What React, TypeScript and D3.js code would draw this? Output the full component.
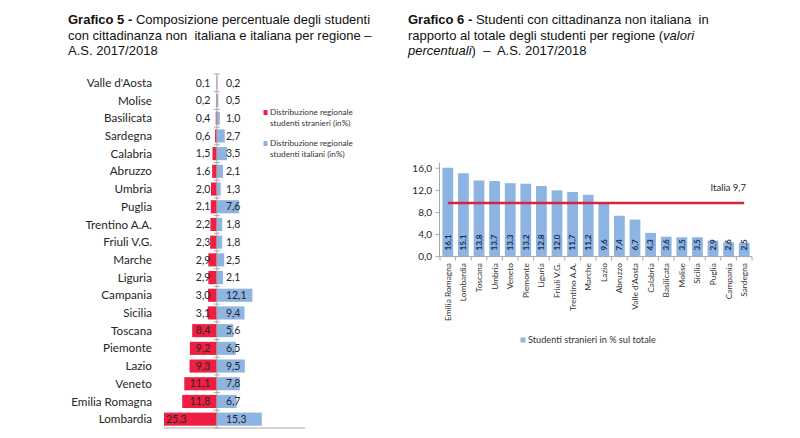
import React from "react";
import * as d3 from "d3";

// ---- Grafico 5 data ----
const regions5 = ["Valle d'Aosta", "Molise", "Basilicata", "Sardegna", "Calabria", "Abruzzo", "Umbria", "Puglia", "Trentino A.A.", "Friuli V.G.", "Marche", "Liguria", "Campania", "Sicilia", "Toscana", "Piemonte", "Lazio", "Veneto", "Emilia Romagna", "Lombardia"];
const stranieri5 = [0.1, 0.2, 0.4, 0.6, 1.5, 1.6, 2.0, 2.1, 2.2, 2.3, 2.9, 2.9, 3.0, 3.1, 8.4, 9.2, 9.3, 11.1, 11.8, 25.3];
const italiani5 = [0.2, 0.5, 1.0, 2.7, 3.5, 2.1, 1.3, 7.6, 1.8, 1.8, 2.5, 2.1, 12.1, 9.4, 5.6, 6.5, 9.5, 7.8, 6.7, 15.3];
const legend5 = [
  ["Distribuzione regionale", "studenti stranieri (in%)"],
  ["Distribuzione regionale", "studenti italiani (in%)"],
];
const axisDomain5: [number, number] = [-18, 30];

// ---- Grafico 6 data ----
const regions6 = ["Emilia Romagna", "Lombardia", "Toscana", "Umbria", "Veneto", "Piemonte", "Liguria", "Friuli V.G.", "Trentino A.A.", "Marche", "Lazio", "Abruzzo", "Valle d'Aosta", "Calabria", "Basilicata", "Molise", "Sicilia", "Puglia", "Campania", "Sardegna"];
const quota6 = [16.1, 15.1, 13.8, 13.7, 13.3, 13.2, 12.8, 12.0, 11.7, 11.2, 9.6, 7.4, 6.7, 4.3, 3.6, 3.5, 3.5, 2.9, 2.6, 2.5];
const italia6 = 9.7;
const yTicks6 = [0, 4, 8, 12, 16];
const legend6 = "Studenti stranieri in % sul totale";

const RED = "#ee1f40";
const BLUE = "#8db4e3";
const AXIS = "#a8a8a8";
const TXT = "#262626";
const CHART_FONT = "Lato, 'Open Sans', sans-serif";
const TITLE_FONT = "'Liberation Sans', Arial, sans-serif";

const fmt = (v: number) => d3.format(".1f")(v).replace(".", ",");

export default function App() {
  // Left chart scales
  const xL = d3.scaleLinear().domain(axisDomain5).range([164, 305]);
  const yL = d3.scaleBand().domain(regions5).range([74, 428]).paddingInner(0.26).paddingOuter(0.13);
  const stepL = yL.step();
  const x0 = xL(0);

  // Right chart scales
  const xR = d3.scaleBand().domain(regions6).range([440, 752]).paddingInner(0.31).paddingOuter(0.155);
  const yR = d3.scaleLinear().domain([0, 17]).range([256.6, 256.6 - 17 * 5.52]);
  const stepR = xR.step();

  return (
    <svg width={800} height={438} style={{ position: "absolute", left: 0, top: 0, background: "#fff" }}>
      <rect x={0} y={0} width={800} height={438} fill="#fff" />
      {/* Titles */}
      <g fontFamily={TITLE_FONT} fontSize={13} fill="#111">
        <text x={68} y={24} xmlSpace="preserve">
          <tspan fontWeight="bold">Grafico 5 - </tspan>
          <tspan>Composizione percentuale degli studenti</tspan>
        </text>
        <text x={68} y={39.5} xmlSpace="preserve">{"con cittadinanza non  italiana e italiana per regione –"}</text>
        <text x={68} y={55}>A.S. 2017/2018</text>

        <text x={408} y={24} xmlSpace="preserve">
          <tspan fontWeight="bold">Grafico 6 - </tspan>
          <tspan>{"Studenti con cittadinanza non italiana  in"}</tspan>
        </text>
        <text x={408} y={39.5} xmlSpace="preserve">
          <tspan>rapporto al totale degli studenti per regione (</tspan>
          <tspan fontStyle="italic">valori</tspan>
        </text>
        <text x={408} y={55} xmlSpace="preserve">
          <tspan fontStyle="italic">percentuali</tspan>
          <tspan>{")  –  A.S. 2017/2018"}</tspan>
        </text>
      </g>

      {/* Left chart */}
      <g fontFamily={CHART_FONT}>
        {regions5.map((r, i) => {
          const y = yL(r)!;
          const bw = yL.bandwidth();
          const sv = stranieri5[i];
          const iv = italiani5[i];
          const clipped = -sv < axisDomain5[0];
          const xs = xL(Math.max(-sv, axisDomain5[0]));
          return (
            <g key={r}>
              <text x={152} y={y + bw / 2} dy="0.35em" textAnchor="end" fontSize={11.7} fill={TXT}>{r}</text>
              <rect x={xs} y={y} width={x0 - xs} height={bw} fill={RED} />
              <rect x={x0} y={y} width={xL(iv) - x0} height={bw} fill={BLUE} />
              {clipped ? (
                <text x={xL(axisDomain5[0]) + 2} y={y + bw / 2} dy="0.35em" textAnchor="start" fontSize={10.5} fill={TXT}>{fmt(sv)}</text>
              ) : (
                <text x={x0 - 6.5} y={y + bw / 2} dy="0.35em" textAnchor="end" fontSize={10.5} fill={TXT}>{fmt(sv)}</text>
              )}
              <text x={x0 + 9} y={y + bw / 2} dy="0.35em" textAnchor="start" fontSize={10.5} fill={TXT}>{fmt(iv)}</text>
            </g>
          );
        })}
        <line x1={x0} x2={x0} y1={74} y2={428} stroke={AXIS} strokeWidth={1} />
        {d3.range(regions5.length + 1).map((k) => {
          const yy = 74 + k * stepL;
          return <line key={k} x1={x0 - 3} x2={x0 + 3} y1={yy} y2={yy} stroke={AXIS} strokeWidth={1} />;
        })}
        <line x1={xL(axisDomain5[0])} x2={xL(axisDomain5[1])} y1={428} y2={428} stroke={AXIS} strokeWidth={1} />

        {/* Legend */}
        {legend5.map((lines, k) => {
          const cy = k === 0 ? 112.5 : 143.5;
          return (
            <g key={k}>
              <rect x={263.5} y={cy - 2.5} width={4} height={5} fill={k === 0 ? RED : BLUE} />
              <text x={270} y={cy} dy="0.35em" fontSize={8.2} fill="#333">{lines[0]}</text>
              <text x={270} y={cy + 11} dy="0.35em" fontSize={8.2} fill="#333">{lines[1]}</text>
            </g>
          );
        })}
      </g>

      {/* Right chart */}
      <g fontFamily={CHART_FONT}>
        {regions6.map((r, i) => {
          const x = xR(r)!;
          const bw = xR.bandwidth();
          const v = quota6[i];
          const cx = x + bw / 2;
          return (
            <g key={r}>
              <rect x={x} y={yR(v)} width={bw} height={yR(0) - yR(v)} fill={BLUE} />
              <text transform={`translate(${cx},${yR(0) - 6}) rotate(-90)`} dy="0.35em" textAnchor="start" fontSize={8.2} fontWeight="bold" fill="#1c2c4c">{fmt(v)}</text>
              <text transform={`translate(${cx},${263}) rotate(-90)`} dy="0.35em" textAnchor="end" fontSize={8.4} fill="#333">{r}</text>
            </g>
          );
        })}
        <line x1={439.5} x2={439.5} y1={yR(17)} y2={yR(0)} stroke={AXIS} />
        {yTicks6.map((t) => (
          <g key={t}>
            <line x1={435.5} x2={439.5} y1={yR(t)} y2={yR(t)} stroke={AXIS} />
            <text x={432} y={yR(t)} dy="0.35em" textAnchor="end" fontSize={10} fill={TXT}>{fmt(t)}</text>
          </g>
        ))}
        <line x1={439.5} x2={752} y1={yR(0)} y2={yR(0)} stroke={AXIS} />
        {d3.range(regions6.length + 1).map((k) => {
          const xx = 440 + k * stepR;
          return <line key={k} x1={xx} x2={xx} y1={yR(0)} y2={yR(0) + 4} stroke={AXIS} />;
        })}
        <line
          x1={xR(regions6[0])! + xR.bandwidth() / 2}
          x2={xR(regions6[regions6.length - 1])! + xR.bandwidth() / 2}
          y1={yR(italia6)}
          y2={yR(italia6)}
          stroke="#d8243c"
          strokeWidth={2.5}
        />
        <text x={746} y={yR(italia6) - 15} dy="0.35em" textAnchor="end" fontSize={9.5} fill={TXT}>{`Italia ${fmt(italia6)}`}</text>

        <rect x={520.5} y={337.5} width={5} height={5} fill={BLUE} />
        <text x={528} y={340} dy="0.35em" fontSize={9.2} fill="#333">{legend6}</text>
      </g>
    </svg>
  );
}
